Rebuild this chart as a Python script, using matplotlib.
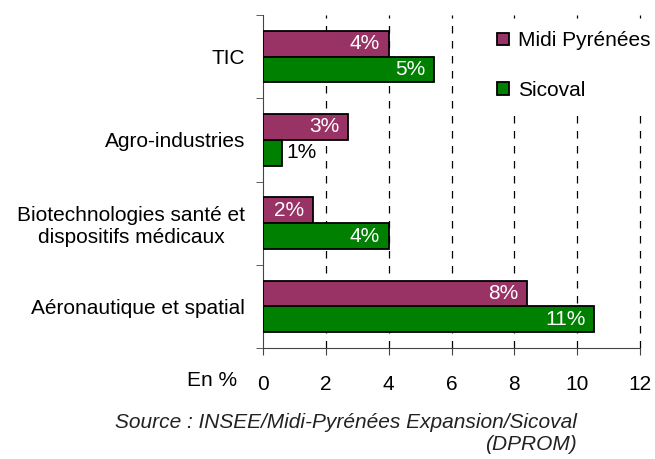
import matplotlib
matplotlib.use("Agg")
import matplotlib.pyplot as plt
import numpy as np

plt.rcParams['font.family'] = ['Liberation Sans', 'DejaVu Sans']

categories = ["TIC", "Agro-industries", "Biotechnologies santé et\ndispositifs médicaux", "Aéronautique et spatial"]
midi = [4.0, 2.7, 1.6, 8.4]
sicoval = [5.45, 0.6, 4.0, 10.55]
midi_lbl = ["4%", "3%", "2%", "8%"]
sicoval_lbl = ["5%", "1%", "4%", "11%"]
xticks = [0, 2, 4, 6, 8, 10, 12]

fs = 15

fig = plt.figure(figsize=(6.55, 4.59), dpi=100)
ax = fig.add_axes([263/655, 1 - 348/459, 377/655, 333/459])

y = np.arange(len(categories))
h = 0.31
ax.barh(y - h/2, midi, height=h, color="#993366", edgecolor="black", linewidth=1.3, label="Midi Pyrénées", zorder=3)
ax.barh(y + h/2, sicoval, height=h, color="#008000", edgecolor="black", linewidth=1.3, label="Sicoval", zorder=3)

for i in range(len(categories)):
    ax.text(midi[i] - 0.28, y[i] - h/2, midi_lbl[i], ha="right", va="center", color="white", fontsize=fs, zorder=4)
    if sicoval[i] > 1:
        ax.text(sicoval[i] - 0.28, y[i] + h/2, sicoval_lbl[i], ha="right", va="center", color="white", fontsize=fs, zorder=4)
    else:
        ax.text(sicoval[i] + 0.15, y[i] + h/2, sicoval_lbl[i], ha="left", va="center", color="black", fontsize=fs, zorder=4)

ax.set_xlim(0, 12)
ax.set_ylim(len(categories) - 0.5, -0.5)
ax.set_xticks(xticks)
ax.set_xticklabels([str(t) for t in xticks], fontsize=fs)
ax.set_yticks(y)
ax.set_yticklabels(categories, fontsize=fs)
ax.tick_params(axis="y", length=0, pad=13)
ax.set_yticks(np.arange(-0.5, len(categories), 1), minor=True)
ax.tick_params(axis="y", which="minor", length=5, color="#444444")
ax.tick_params(axis="x", length=5, color="#444444", pad=14.5)
for lbl in ax.get_yticklabels():
    lbl.set_multialignment("center")

for t in xticks[1:]:
    ax.axvline(t, color="black", linestyle=(0, (6, 6)), linewidth=0.9, zorder=1, clip_on=False)

for s in ["top", "right"]:
    ax.spines[s].set_visible(False)
ax.spines["left"].set_color("#444444")
ax.spines["bottom"].set_color("#444444")

leg = fig.legend(loc="upper left", bbox_to_anchor=(487/655, 1 - 21/459), frameon=True, fontsize=fs,
                 handlelength=0.55, handleheight=0.55, labelspacing=1.45, handletextpad=0.45,
                 borderpad=0.5, borderaxespad=0)
leg.get_frame().set_facecolor("white")
leg.get_frame().set_edgecolor("white")
leg.get_frame().set_alpha(1)
leg.set_zorder(10)

fig.text(237/655, 1 - 381/459, "En %", ha="right", va="center", fontsize=fs)
fig.text(577/655, 1 - 413/459, "Source : INSEE/Midi-Pyrénées Expansion/Sicoval\n(DPROM)",
         ha="right", va="top", fontsize=fs, style="italic", color="#222222", multialignment="right",
         linespacing=1.2)

fig.savefig("out.png", dpi=100)
